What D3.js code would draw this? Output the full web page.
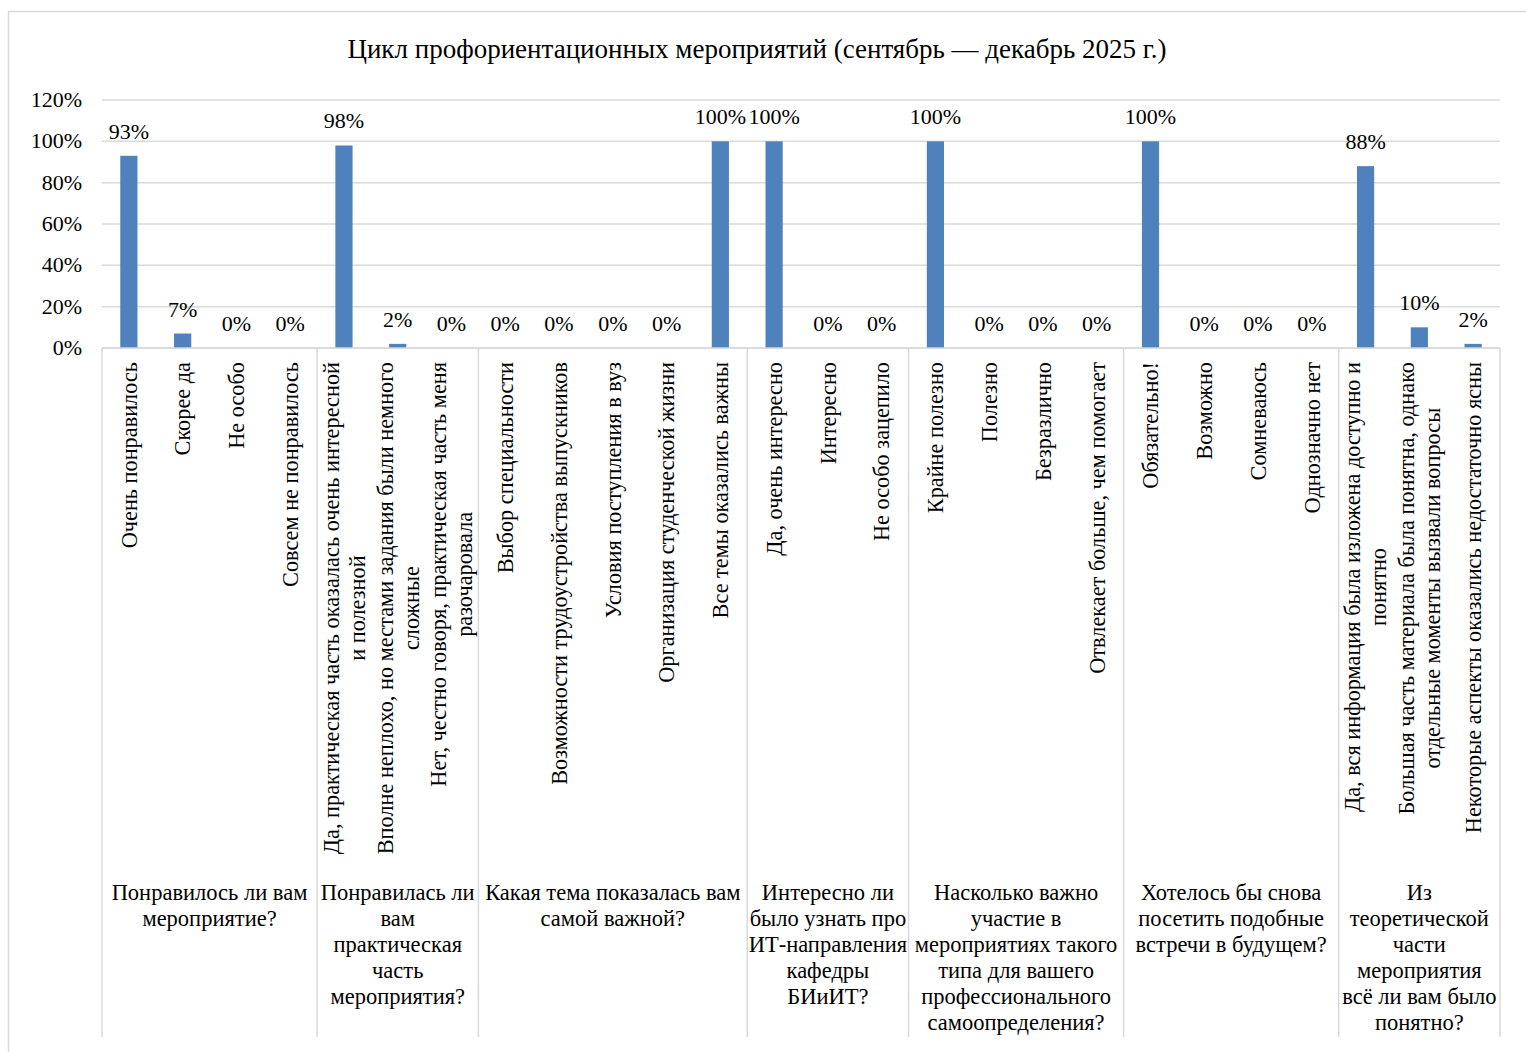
<!DOCTYPE html>
<html>
<head>
<meta charset="utf-8">
<script src="https://cdn.jsdelivr.net/npm/d3@7"></script>
<style>
  body { margin: 0; background: #fff; }
  svg text { font-family: "Liberation Serif", "Times New Roman", serif; fill: #000; }
</style>
</head>
<body>
<div id="viz-container"></div>
<script>
// Questions (group titles, as wrapped in the original)
const groupTitles = [
    ["Понравилось ли вам", "мероприятие?"],
    ["Понравилась ли", "вам", "практическая", "часть", "мероприятия?"],
    ["Какая тема показалась вам", "самой важной?"],
    ["Интересно ли", "было узнать про", "ИТ-направления", "кафедры", "БИиИТ?"],
    ["Насколько важно", "участие в", "мероприятиях такого", "типа для вашего", "профессионального", "самоопределения?"],
    ["Хотелось бы снова", "посетить подобные", "встречи в будущем?"],
    ["Из", "теоретической", "части", "мероприятия", "всё ли вам было", "понятно?"]
];
const groupSizes = [4, 3, 5, 3, 4, 4, 3];

// Answer options
const categories = [
    ["Очень понравилось"], ["Скорее да"], ["Не особо"], ["Совсем не понравилось"],
    ["Да, практическая часть оказалась очень интересной", "и полезной"],
    ["Вполне неплохо, но местами задания были немного", "сложные"],
    ["Нет, честно говоря, практическая часть меня", "разочаровала"],
    ["Выбор специальности"], ["Возможности трудоустройства выпускников"],
    ["Условия поступления в вуз"], ["Организация студенческой жизни"],
    ["Все темы оказались важны"],
    ["Да, очень интересно"], ["Интересно"], ["Не особо зацепило"],
    ["Крайне полезно"], ["Полезно"], ["Безразлично"], ["Отвлекает больше, чем помогает"],
    ["Обязательно!"], ["Возможно"], ["Сомневаюсь"], ["Однозначно нет"],
    ["Да, вся информация была изложена доступно и", "понятно"],
    ["Большая часть материала была понятна, однако", "отдельные моменты вызвали вопросы"],
    ["Некоторые аспекты оказались недостаточно ясны"]
];
const values = [93, 7, 0, 0, 98, 2, 0, 0, 0, 0, 0, 100, 100, 0, 0, 100, 0, 0, 0, 100, 0, 0, 0, 88, 10, 2];
const yTicks = [0, 20, 40, 60, 80, 100, 120];

const W = 1526, H = 1052;
const margin = { top: 100, left: 102, right: 26, bottom: 704 };
const plotW = W - margin.left - margin.right;
const plotH = H - margin.top - margin.bottom;
const gridColor = "#d9d9d9";

const svg = d3.select("#viz-container").append("svg")
    .attr("width", W).attr("height", H);

// outer chart border
svg.append("rect")
    .attr("x", 8.5).attr("y", 11.5)
    .attr("width", W + 10).attr("height", H + 10)
    .attr("fill", "none").attr("stroke", gridColor).attr("stroke-width", 1.5);

svg.append("text")
    .attr("x", 757).attr("y", 58)
    .attr("text-anchor", "middle")
    .attr("font-size", "27px")
    .text("Цикл профориентационных мероприятий (сентябрь — декабрь 2025 г.)");

const chart = svg.append("g")
    .attr("transform", `translate(${margin.left},${margin.top})`);

const x = d3.scaleBand()
    .domain(d3.range(values.length))
    .range([0, plotW])
    .paddingInner(0.68)
    .paddingOuter(0.34);
const step = x.step();

const y = d3.scaleLinear().domain([0, 120]).range([plotH, 0]);

// gridlines
chart.selectAll("line.grid")
    .data(yTicks)
    .enter().append("line")
    .attr("class", "grid")
    .attr("x1", 0).attr("x2", plotW)
    .attr("y1", d => y(d)).attr("y2", d => y(d))
    .attr("stroke", gridColor).attr("stroke-width", 1.5);

// y labels
chart.selectAll("text.ytick")
    .data(yTicks)
    .enter().append("text")
    .attr("class", "ytick")
    .attr("x", -20)
    .attr("y", d => y(d))
    .attr("dy", "0.32em")
    .attr("text-anchor", "end")
    .attr("font-size", "22px")
    .text(d => d + "%");

// bars
chart.selectAll("rect.bar")
    .data(values)
    .enter().append("rect")
    .attr("class", "bar")
    .attr("x", (d, i) => x(i))
    .attr("y", d => y(d))
    .attr("width", x.bandwidth())
    .attr("height", d => plotH - y(d))
    .attr("fill", "#4f81bd");

// value labels
chart.selectAll("text.val")
    .data(values)
    .enter().append("text")
    .attr("class", "val")
    .attr("x", (d, i) => x(i) + x.bandwidth() / 2)
    .attr("y", d => y(d) - 17)
    .attr("text-anchor", "middle")
    .attr("font-size", "22px")
    .text(d => d + "%");

// group boundaries
const bounds = [0];
groupSizes.forEach(n => bounds.push(bounds[bounds.length - 1] + n));
chart.selectAll("line.sep")
    .data(bounds)
    .enter().append("line")
    .attr("class", "sep")
    .attr("x1", d => d * step).attr("x2", d => d * step)
    .attr("y1", plotH).attr("y2", 937)
    .attr("stroke", gridColor).attr("stroke-width", 1.5);

// x axis line
chart.append("line")
    .attr("x1", 0).attr("x2", plotW)
    .attr("y1", plotH).attr("y2", plotH)
    .attr("stroke", gridColor).attr("stroke-width", 1.5);

// rotated category labels
const lineH = 26;
categories.forEach((lines, i) => {
    const cx = x(i) + x.bandwidth() / 2;
    const g = chart.append("g");
    const t = g.append("text")
        .attr("font-size", "22.3px")
        .attr("text-anchor", "middle");
    lines.forEach((ln, j) => {
        t.append("tspan")
            .attr("x", 0)
            .attr("y", (j - (lines.length - 1) / 2) * lineH)
            .attr("dy", "0.35em")
            .text(ln);
    });
    const maxW = d3.max(t.selectAll("tspan").nodes(), n => n.getComputedTextLength());
    g.attr("transform", `translate(${cx},${plotH + 14 + maxW / 2}) rotate(-90)`);
});

// group titles
groupTitles.forEach((lines, k) => {
    const cx = (bounds[k] + bounds[k + 1]) / 2 * step;
    chart.append("text")
        .attr("font-size", "22.5px")
        .attr("text-anchor", "middle")
        .selectAll("tspan")
        .data(lines)
        .enter().append("tspan")
        .attr("x", cx)
        .attr("y", (d, j) => 800 + j * lineH)
        .text(d => d);
});
</script>
</body>
</html>
